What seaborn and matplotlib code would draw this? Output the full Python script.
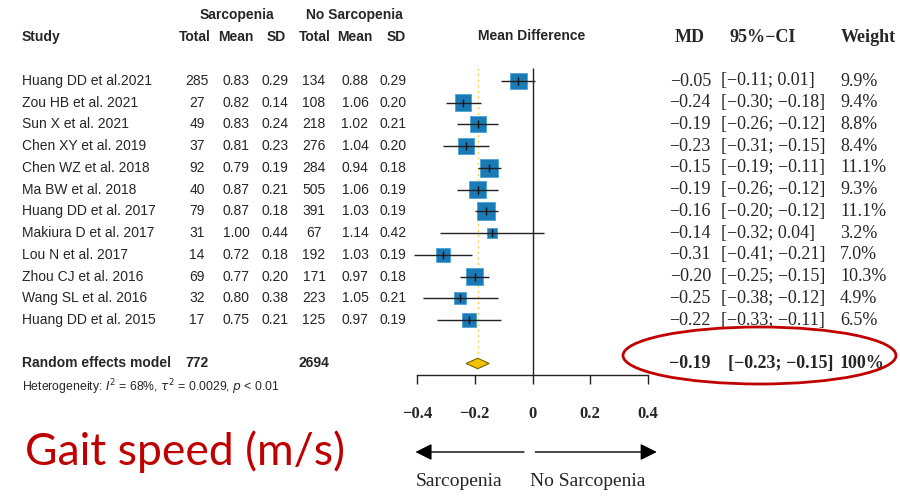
import matplotlib
matplotlib.use("Agg")
import matplotlib.pyplot as plt
import matplotlib.transforms as mtransforms
from matplotlib.patches import Ellipse, Polygon
import pandas as pd
import seaborn as sns

# ---- data ----
studies = ["Huang DD et al.2021", "Zou HB et al. 2021", "Sun X et al. 2021",
           "Chen XY et al. 2019", "Chen WZ et al. 2018", "Ma BW et al. 2018",
           "Huang DD et al. 2017", "Makiura D et al. 2017", "Lou N et al. 2017",
           "Zhou CJ et al. 2016", "Wang SL et al. 2016", "Huang DD et al. 2015"]
sarc_total = [285, 27, 49, 37, 92, 40, 79, 31, 14, 69, 32, 17]
sarc_mean = [0.83, 0.82, 0.83, 0.81, 0.79, 0.87, 0.87, 1.00, 0.72, 0.77, 0.80, 0.75]
sarc_sd = [0.29, 0.14, 0.24, 0.23, 0.19, 0.21, 0.18, 0.44, 0.18, 0.20, 0.38, 0.21]
ctrl_total = [134, 108, 218, 276, 284, 505, 391, 67, 192, 171, 223, 125]
ctrl_mean = [0.88, 1.06, 1.02, 1.04, 0.94, 1.06, 1.03, 1.14, 1.03, 0.97, 1.05, 0.97]
ctrl_sd = [0.29, 0.20, 0.21, 0.20, 0.18, 0.19, 0.19, 0.42, 0.19, 0.18, 0.21, 0.19]
md = [-0.05, -0.24, -0.19, -0.23, -0.15, -0.19, -0.16, -0.14, -0.31, -0.20, -0.25, -0.22]
ci_low = [-0.11, -0.30, -0.26, -0.31, -0.19, -0.26, -0.20, -0.32, -0.41, -0.25, -0.38, -0.33]
ci_high = [0.01, -0.18, -0.12, -0.15, -0.11, -0.12, -0.12, 0.04, -0.21, -0.15, -0.12, -0.11]
weight = [9.9, 9.4, 8.8, 8.4, 11.1, 9.3, 11.1, 3.2, 7.0, 10.3, 4.9, 6.5]

pooled_md, pooled_low, pooled_high = -0.19, -0.23, -0.15
pooled_sarc_n, pooled_ctrl_n = 772, 2694
x_ticks = [-0.4, -0.2, 0, 0.2, 0.4]

W, H = 900, 496
SANS = "Liberation Sans"
SERIF = "Liberation Serif"
BLUE = "#1a7ab6"
YELLOW = "#f5c400"
RED = "#c00000"


def fmt(v, nd=2):
    return f"{v:.{nd}f}".replace("-", "\u2212")


def px(x):
    return x / W


sns.set_style("white")
plt.rcParams["font.family"] = [SANS, "DejaVu Sans"]

df = pd.DataFrame({"study": studies, "md": md, "lo": ci_low, "hi": ci_high, "w": weight})
df["row"] = range(len(df))
n = len(df)
summary_row = n + 1

fig = plt.figure(figsize=(W / 100, H / 100), dpi=100)
# forest panel: -0.4 .. 0.4 spans pixels 417..648, axis line at y=375, top at y=60
ax = fig.add_axes([px(417), 1 - 375 / H, px(648 - 417), (375 - 60) / H])
row_px = 21.73
ax.set_xlim(-0.4, 0.4)
ax.set_ylim((375 - 81) / row_px, -(81 - 60) / row_px)
top_line = -(81 - 68) / row_px

# reference lines
ax.vlines(0, top_line, ax.get_ylim()[0], color="#222222", lw=1.0, zorder=1)
ax.vlines(pooled_md, top_line, summary_row - 0.3, color="#f7d04a", lw=1.0,
          linestyles=(0, (1.5, 2.5)), zorder=1)

# study squares, area proportional to weight
sns.scatterplot(data=df, x="md", y="row", size="w", sizes=(0, 15.0 * max(weight)),
                size_norm=(0, max(weight)), marker="s", color=BLUE,
                edgecolor="#4aa3d8", linewidth=0.6, legend=False, ax=ax, zorder=2,
                clip_on=False)
ax.hlines(df["row"], df["lo"], df["hi"], color="#222222", lw=1.0, zorder=3, clip_on=False)
ax.scatter(df["md"], df["row"], marker="|", s=30, color="#111111", lw=1.0, zorder=4)

# pooled diamond
ax.add_patch(Polygon([(pooled_low, summary_row), (pooled_md, summary_row - 0.24),
                      (pooled_high, summary_row), (pooled_md, summary_row + 0.24)],
                     closed=True, fc=YELLOW, ec="#7a6000", lw=0.8, zorder=3))

sns.despine(ax=ax, left=True, top=True, right=True)
ax.spines["bottom"].set_color("#222222")
ax.spines["bottom"].set_linewidth(1.0)
ax.set_yticks([])
ax.set_xticks(x_ticks)
ax.set_xticklabels([fmt(t, 1) if t != 0 else "0" for t in x_ticks],
                   fontfamily=SERIF, fontweight="bold", fontsize=12)
ax.tick_params(axis="x", bottom=True, direction="out", length=6.5, width=1.0,
               color="#222222", pad=16)
ax.set_xlabel("")
ax.set_ylabel("")

trans = mtransforms.blended_transform_factory(fig.transFigure, ax.transData)


def row_y(pixel):
    return (pixel - 81) / row_px


# left table headers
lt = dict(transform=trans, fontfamily=SANS, fontsize=10, va="center")
ax.text(px(237), row_y(15), "Sarcopenia", ha="center", fontweight="bold", **lt)
ax.text(px(354), row_y(15), "No Sarcopenia", ha="center", fontweight="bold", **lt)
ax.text(px(22), row_y(37), "Study", ha="left", fontweight="bold", **lt)
for xc, lab in zip([195, 236, 276, 315, 355, 396], ["Total", "Mean", "SD", "Total", "Mean", "SD"]):
    ax.text(px(xc), row_y(37), lab, ha="center", fontweight="bold", **lt)
ax.text(px(532), row_y(36), "Mean Difference", ha="center", fontweight="bold", **lt)

# left table rows
for i in range(n):
    ax.text(px(22), i, studies[i], ha="left", **lt)
    ax.text(px(197), i, str(sarc_total[i]), ha="center", **lt)
    ax.text(px(236), i, fmt(sarc_mean[i]), ha="center", **lt)
    ax.text(px(275), i, fmt(sarc_sd[i]), ha="center", **lt)
    ax.text(px(314), i, str(ctrl_total[i]), ha="center", **lt)
    ax.text(px(355), i, fmt(ctrl_mean[i]), ha="center", **lt)
    ax.text(px(393), i, fmt(ctrl_sd[i]), ha="center", **lt)

ax.text(px(22), summary_row, "Random effects model", ha="left", fontweight="bold", **lt)
ax.text(px(197), summary_row, str(pooled_sarc_n), ha="center", fontweight="bold", **lt)
ax.text(px(314), summary_row, str(pooled_ctrl_n), ha="center", fontweight="bold", **lt)
ax.text(px(22), row_y(387), r"Heterogeneity: $I^2$ = 68%, $\tau^2$ = 0.0029, $p$ < 0.01",
        transform=trans, fontfamily=SANS, fontsize=8.8, va="center", ha="left")

# right table
rt = dict(transform=trans, fontfamily=SERIF, fontsize=13, va="center")
ax.text(px(690), row_y(38), "MD", ha="center", fontweight="bold", **rt)
ax.text(px(763), row_y(38), "95%\u2212CI", ha="center", fontweight="bold", **rt)
ax.text(px(868), row_y(38), "Weight", ha="center", fontweight="bold", **rt)
for i in range(n):
    ax.text(px(711), i, fmt(md[i]), ha="right", **rt)
    ax.text(px(721), i, f"[{fmt(ci_low[i])}; {fmt(ci_high[i])}]", ha="left", **rt)
    ax.text(px(840), i, f"{weight[i]:.1f}%", ha="left", **rt)
ax.text(px(711), summary_row, fmt(pooled_md), ha="right", fontweight="bold", **rt)
ax.text(px(728), summary_row, f"[{fmt(pooled_low)}; {fmt(pooled_high)}]", ha="left",
        fontweight="bold", **rt)
ax.text(px(840), summary_row, "100%", ha="left", fontweight="bold", **rt)

# direction arrows
arrow_y = row_y(452)
head = "-|>,head_length=1.0,head_width=0.5"
ax.annotate("", xy=(-0.415, arrow_y), xytext=(-0.02, arrow_y), annotation_clip=False,
            arrowprops=dict(arrowstyle=head, color="black", lw=1.0))
ax.annotate("", xy=(0.44, arrow_y), xytext=(0.0, arrow_y), annotation_clip=False,
            arrowprops=dict(arrowstyle=head, color="black", lw=1.0))
ax.text(-0.253, row_y(481), "Sarcopenia", ha="center", va="center", fontfamily=SERIF, fontsize=14)
ax.text(0.19, row_y(481), "No Sarcopenia", ha="center", va="center", fontfamily=SERIF, fontsize=14)

# annotations
fig.text(px(25), 1 - 465 / H, "Gait speed (m/s)", color=RED, fontsize=32,
         fontfamily=["Lato", "DejaVu Sans"], ha="left", va="baseline")
fig.add_artist(Ellipse((px(759.5), 1 - 355.5 / H), px(273), 57 / H,
                       transform=fig.transFigure, fill=False, ec=RED, lw=2.0))

fig.savefig("out.png", dpi=100)
